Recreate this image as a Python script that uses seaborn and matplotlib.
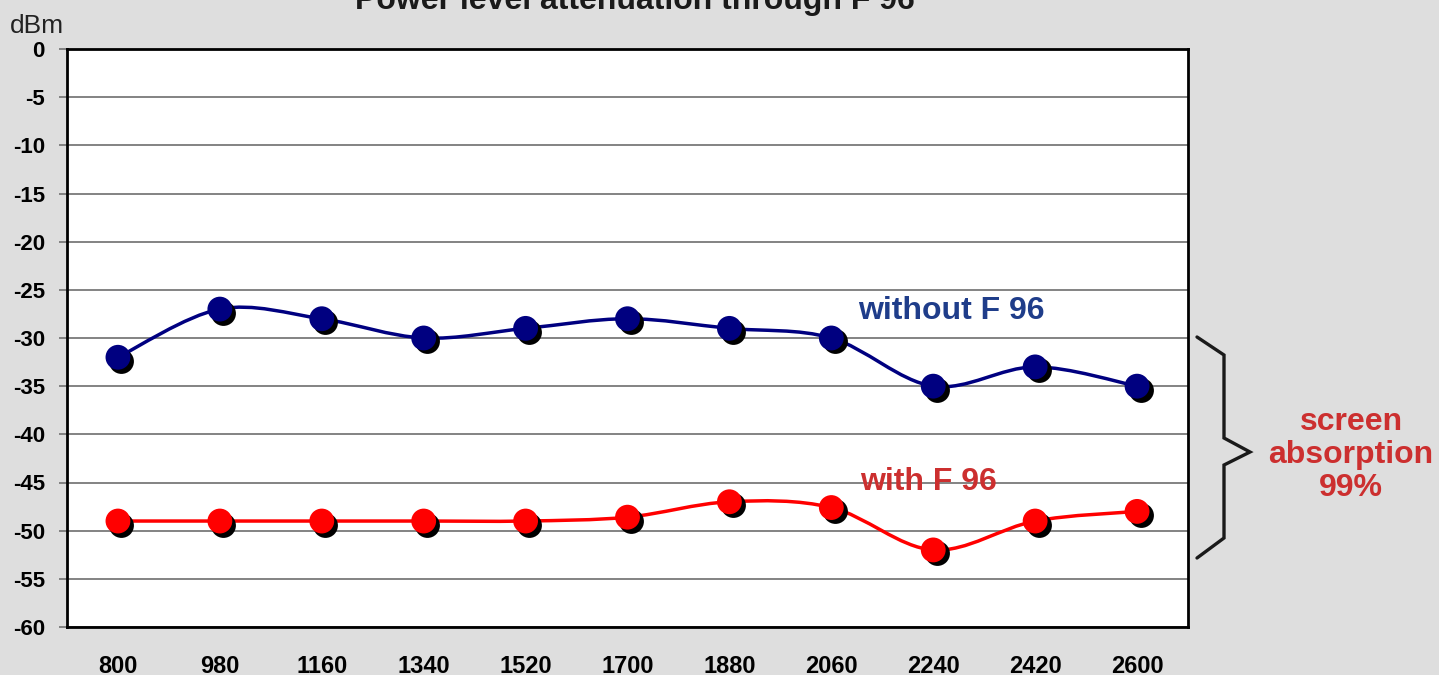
import numpy as np
import pandas as pd
import matplotlib
matplotlib.use("Agg")
import matplotlib.pyplot as plt
from matplotlib.path import Path
from matplotlib.patches import PathPatch
from matplotlib.lines import Line2D
import matplotlib.transforms as mtransforms
import seaborn as sns

# Frequencies (MHz) and measured power levels (dBm)
frequencies = ["800", "980", "1160", "1340", "1520", "1700", "1880", "2060", "2240", "2420", "2600"]
without_f96 = [-32, -27, -28, -30, -29, -28, -29, -30, -35, -33, -35]
with_f96 = [-49, -49, -49, -49, -49, -48.6, -47, -47.6, -52, -49, -48]
y_ticks = list(range(0, -61, -5))

BG = "#dedede"
NAVY = "#000080"
RED = "#ff0000"
LABEL_BLUE = "#1f3d8a"
LABEL_RED = "#cc2f2f"

sns.set_theme(style="white")
plt.rcParams["font.family"] = ["Liberation Sans", "DejaVu Sans"]

fig = plt.figure(figsize=(14.39, 6.75), dpi=100, facecolor=BG)
ax = fig.add_axes([67 / 1439, 1 - 627 / 675, (1188 - 67) / 1439, (627 - 49) / 675])
ax.set_facecolor("white")

df = pd.DataFrame({
    "freq": frequencies * 2,
    "dbm": without_f96 + with_f96,
    "series": ["without"] * len(frequencies) + ["with"] * len(frequencies),
})


def smooth_path(ys):
    """Catmull-Rom style cubic Bezier path through the points (x = category index)."""
    xs = np.arange(len(ys), dtype=float)
    ys = np.asarray(ys, dtype=float)
    pts = np.column_stack([xs, ys])
    verts = [pts[0]]
    codes = [Path.MOVETO]
    n = len(pts)
    for i in range(n - 1):
        p0 = pts[i - 1] if i > 0 else pts[i]
        p1 = pts[i]
        p2 = pts[i + 1]
        p3 = pts[i + 2] if i + 2 < n else pts[i + 1]
        c1 = p1 + (p2 - p0) / 6.0
        c2 = p2 - (p3 - p1) / 6.0
        verts += [c1, c2, p2]
        codes += [Path.CURVE4] * 3
    return Path(verts, codes)


# horizontal grid
for yv in y_ticks:
    ax.axhline(yv, color="#7a7a7a", lw=1.3, zorder=1)

for vals, col in [(without_f96, NAVY), (with_f96, RED)]:
    ax.add_patch(PathPatch(smooth_path(vals), facecolor="none", edgecolor=col,
                           lw=2.5, zorder=3, capstyle="round", joinstyle="round"))

# markers with a drop shadow
shadow_tr = mtransforms.offset_copy(ax.transData, fig=fig, x=2.5, y=-2.5, units="points")
sns.scatterplot(data=df, x="freq", y="dbm", color="black", s=320, linewidth=0,
                transform=shadow_tr, zorder=4, ax=ax, legend=False)
sns.scatterplot(data=df, x="freq", y="dbm", hue="series",
                palette={"without": NAVY, "with": RED}, s=320, linewidth=0,
                zorder=5, ax=ax, legend=False)

ax.set_xlim(-0.5, len(frequencies) - 0.5)
ax.set_ylim(-60, 0)
ax.set_yticks(y_ticks)
ax.set_yticklabels([str(v) for v in y_ticks], fontsize=16, fontweight="bold", color="black")
ax.set_xticks(range(len(frequencies)))
ax.set_xticklabels(frequencies, fontsize=17, fontweight="bold", color="black")
ax.tick_params(axis="y", which="both", left=True, length=6, width=1.3, color="#7a7a7a", pad=10)
ax.tick_params(axis="x", bottom=False, pad=14)
ax.set_xlabel("")
ax.set_ylabel("")
for side in ["left", "bottom", "top", "right"]:
    ax.spines[side].set_visible(True)
    ax.spines[side].set_color("black")
    ax.spines[side].set_linewidth(2)

fig.text(10 / 1439, 1 - 33 / 675, "dBm", fontsize=19, color="#222222", ha="left", va="baseline")
fig.text(635 / 1439, 1 - 9 / 675, "Power level attenuation through F 96", fontsize=23,
         fontweight="bold", color="#1a1a1a", ha="center", va="baseline")

ax.text(858 / 1439, 1 - 319 / 675, "without F 96", transform=fig.transFigure, fontsize=23,
        fontweight="bold", color=LABEL_BLUE, ha="left", va="baseline")
ax.text(860 / 1439, 1 - 490 / 675, "with F 96", transform=fig.transFigure, fontsize=23,
        fontweight="bold", color=LABEL_RED, ha="left", va="baseline")
fig.text(1351 / 1439, 1 - 455 / 675, "screen\nabsorption\n99%", fontsize=23,
         fontweight="bold", color=LABEL_RED, ha="center", va="center", linespacing=1.15)

# curly bracket spanning the two curves
bx = np.array([1197, 1224, 1224, 1250, 1224, 1224, 1197]) / 1439
by = 1 - np.array([337, 355, 438, 452, 465, 538, 558]) / 675
fig.add_artist(Line2D(bx, by, color="#1a1a1a", lw=2.4, transform=fig.transFigure,
                      solid_joinstyle="miter"))

fig.savefig("out.png", dpi=100, facecolor=BG)
